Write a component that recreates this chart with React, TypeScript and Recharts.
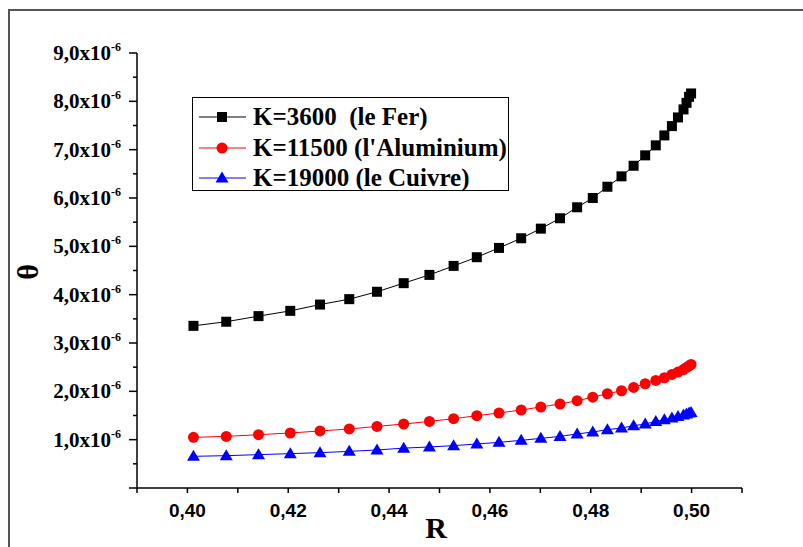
import { LineChart, Line, XAxis, YAxis, Legend } from 'recharts';

// R values shared by the three curves
const rValues = [
  0.4012, 0.4077, 0.4141, 0.4204, 0.4263, 0.4321, 0.4376, 0.4429, 0.448, 0.4528,
  0.4574, 0.4618, 0.4662, 0.4701, 0.4739, 0.4773, 0.4804, 0.4833, 0.4861, 0.4885,
  0.4908, 0.4929, 0.4946, 0.4961, 0.4973, 0.4984, 0.499, 0.4995, 0.4999,
];

// theta in units of 1e-6
const fer = [
  3.355, 3.44, 3.556, 3.665, 3.795, 3.907, 4.06, 4.238, 4.409, 4.595,
  4.775, 4.967, 5.167, 5.366, 5.581, 5.808, 6.0, 6.233, 6.448, 6.667,
  6.882, 7.089, 7.295, 7.488, 7.667, 7.833, 7.969, 8.093, 8.163,
];
const aluminium = [
  1.048, 1.068, 1.103, 1.138, 1.18, 1.221, 1.275, 1.324, 1.378, 1.434,
  1.496, 1.552, 1.614, 1.676, 1.738, 1.806, 1.88, 1.95, 2.012, 2.081,
  2.157, 2.225, 2.281, 2.349, 2.399, 2.452, 2.494, 2.529, 2.556,
];
const cuivre = [
  0.655, 0.669, 0.69, 0.711, 0.731, 0.758, 0.787, 0.825, 0.849, 0.876,
  0.911, 0.944, 0.986, 1.027, 1.068, 1.118, 1.159, 1.207, 1.242, 1.289,
  1.324, 1.378, 1.413, 1.448, 1.481, 1.51, 1.531, 1.552, 1.564,
];

const seriesNames = ['K=3600  (le Fer)', "K=11500 (l'Aluminium)", 'K=19000 (le Cuivre)'];

const xTicks = [0.39, 0.4, 0.41, 0.42, 0.43, 0.44, 0.45, 0.46, 0.47, 0.48, 0.49, 0.5, 0.51];
const yTicksMicro = [0, 0.5, 1, 1.5, 2, 2.5, 3, 3.5, 4, 4.5, 5, 5.5, 6, 6.5, 7, 7.5, 8, 8.5, 9];

const UNIT = 1e-6;
const data = rValues.map((r, i) => ({
  R: r,
  fer: fer[i] * UNIT,
  alu: aluminium[i] * UNIT,
  cu: cuivre[i] * UNIT,
}));

const SERIF = '"Liberation Serif", "Times New Roman", serif';
const SANS = '"Liberation Sans", Arial, sans-serif';

const XTick = (props: any) => {
  const { x, y, payload } = props;
  const hundredths = Math.round(payload.value * 100);
  const labeled = hundredths % 2 === 0;
  return (
    <g>
      <line x1={x} x2={x} y1={y} y2={y + 5} stroke="#000" strokeWidth={1.5} />
      {labeled && (
        <text x={x} y={y + 29} textAnchor="middle" fontFamily={SANS} fontWeight="bold" fontSize={19} fill="#000">
          {payload.value.toFixed(2).replace('.', ',')}
        </text>
      )}
    </g>
  );
};

const YTick = (props: any) => {
  const { x, y, payload } = props;
  const micro = Math.round((payload.value / UNIT) * 10) / 10;
  const major = Number.isInteger(micro);
  return (
    <g>
      <line x1={x - (major ? 8 : 4)} x2={x} y1={y} y2={y} stroke="#000" strokeWidth={1.5} />
      {major && micro > 0 && (
        <text x={x - 16} y={y + 7} textAnchor="end" fontFamily={SERIF} fontWeight="bold" fontSize={21} fill="#000">
          <tspan>{micro.toFixed(1).replace('.', ',')}x10</tspan>
          <tspan dy={-9} fontSize={12}>-6</tspan>
        </text>
      )}
    </g>
  );
};

const Square = (props: any) => {
  const { cx, cy, index } = props;
  return <rect key={`sq-${index}`} x={cx - 5} y={cy - 5} width={10} height={10} fill="#000" />;
};

const Triangle = (props: any) => {
  const { cx, cy, index } = props;
  return (
    <polygon
      key={`tr-${index}`}
      points={`${cx},${cy - 6.5} ${cx - 6.5},${cy + 4.5} ${cx + 6.5},${cy + 4.5}`}
      fill="#0000ff"
    />
  );
};

const legendColors = ['#000', '#ff0000', '#0000ff'];

const LegendBox = () => (
  <div
    style={{
      border: '1px solid #000',
      width: 317,
      height: 94,
      paddingTop: 4,
      boxSizing: 'border-box',
      background: '#fff',
    }}
  >
    {seriesNames.map((name, i) => (
      <div key={name} style={{ display: 'flex', alignItems: 'center', height: 30.5 }}>
        <svg width={56} height={30} style={{ flex: 'none' }}>
          <line x1={6} x2={53} y1={15} y2={15} stroke={legendColors[i]} strokeWidth={1} />
          {i === 0 && <rect x={24} y={10} width={10} height={10} fill="#000" />}
          {i === 1 && <circle cx={29} cy={15} r={5.5} fill="#ff0000" />}
          {i === 2 && <polygon points="29,8.5 22.5,19.5 35.5,19.5" fill="#0000ff" />}
        </svg>
        <span
          style={{
            marginLeft: 4,
            fontFamily: SERIF,
            fontWeight: 'bold',
            fontSize: 25,
            whiteSpace: 'pre',
            color: '#000',
            lineHeight: '30px',
          }}
        >
          {name}
        </span>
      </div>
    ))}
  </div>
);

export default function App() {
  return (
    <div style={{ position: 'absolute', left: 0, top: 0, width: 803, height: 547, overflow: 'hidden', background: '#fff' }}>
      <div
        style={{
          position: 'absolute',
          left: 8,
          top: 9,
          width: 820,
          height: 560,
          borderTop: '2px solid #555',
          borderLeft: '2px solid #555',
        }}
      />
      <div style={{ position: 'absolute', left: 0, top: 0 }}>
        <LineChart width={803} height={547} data={data} margin={{ top: 53, right: 61, left: 0, bottom: 0 }}>
          <XAxis
            dataKey="R"
            type="number"
            domain={[0.39, 0.51]}
            ticks={xTicks}
            interval={0}
            height={59}
            tickSize={0}
            tickMargin={0}
            tickLine={false}
            tick={<XTick />}
            axisLine={{ stroke: '#000', strokeWidth: 1.5 }}
            label={{
              content: () => (
                <text x={436} y={538} textAnchor="middle" fontFamily={SERIF} fontWeight="bold" fontSize={30} fill="#000">
                  R
                </text>
              ),
            }}
          />
          <YAxis
            type="number"
            domain={[0, 9 * UNIT]}
            ticks={yTicksMicro.map((t) => t * UNIT)}
            interval={0}
            width={137}
            tickSize={0}
            tickMargin={0}
            tickLine={false}
            tick={<YTick />}
            axisLine={{ stroke: '#000', strokeWidth: 1.5 }}
            label={{
              content: () => (
                <text
                  x={27}
                  y={272}
                  textAnchor="middle"
                  dominantBaseline="central"
                  transform="rotate(-90 27 272)"
                  fontFamily={SERIF}
                  fontWeight="bold"
                  fontSize={30}
                  fill="#000"
                >
                  θ
                </text>
              ),
            }}
          />
          <Legend
            layout="vertical"
            align="center"
            verticalAlign="middle"
            content={<LegendBox />}
            wrapperStyle={{ left: 192, top: 97, width: 'auto', height: 'auto' }}
          />
          <Line
            dataKey="fer"
            name={seriesNames[0]}
            stroke="#000"
            strokeWidth={1}
            dot={Square}
            activeDot={false}
            isAnimationActive={false}
          />
          <Line
            dataKey="alu"
            name={seriesNames[1]}
            stroke="#ff0000"
            strokeWidth={1}
            dot={{ r: 5.5, fill: '#ff0000', stroke: '#ff0000', strokeWidth: 0 }}
            activeDot={false}
            isAnimationActive={false}
          />
          <Line
            dataKey="cu"
            name={seriesNames[2]}
            stroke="#0000ff"
            strokeWidth={1}
            dot={Triangle}
            activeDot={false}
            isAnimationActive={false}
          />
        </LineChart>
      </div>
    </div>
  );
}
